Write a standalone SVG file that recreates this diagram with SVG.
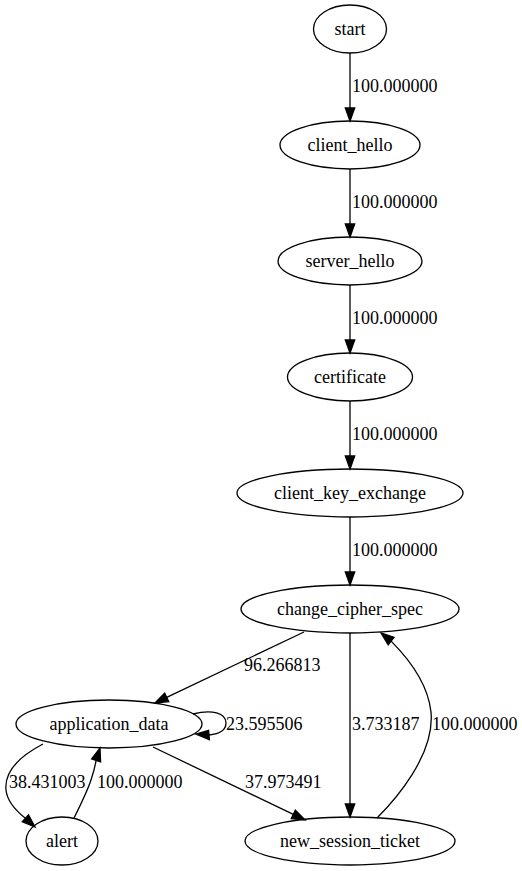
<svg xmlns="http://www.w3.org/2000/svg" width="522" height="871" viewBox="0 0 522 871">
<style>
.n ellipse{fill:none;stroke:#000;stroke-width:1.3}
.n text{font-family:"Liberation Serif","Times New Roman",serif;font-size:18px;text-anchor:middle;fill:#000}
.e path,.e line{fill:none;stroke:#000;stroke-width:1.3}
.e polygon{fill:#000;stroke:#000;stroke-width:1.3}
.e text{font-family:"Liberation Serif","Times New Roman",serif;font-size:18px;fill:#000}
</style>
<rect width="522" height="871" fill="#fff"/>
<g id="edges" class="e">
<line x1="350" y1="53" x2="350" y2="108"/><polygon points="345.3,108 354.7,108 350,121"/><text x="352" y="92">100.000000</text>
<line x1="350" y1="169" x2="350" y2="224"/><polygon points="345.3,224 354.7,224 350,237"/><text x="352" y="208">100.000000</text>
<line x1="350" y1="285" x2="350" y2="340"/><polygon points="345.3,340 354.7,340 350,353"/><text x="352" y="324">100.000000</text>
<line x1="350" y1="401" x2="350" y2="456"/><polygon points="345.3,456 354.7,456 350,469"/><text x="352" y="440">100.000000</text>
<line x1="350" y1="517" x2="350" y2="572"/><polygon points="345.3,572 354.7,572 350,585"/><text x="352" y="556">100.000000</text>
<line x1="304" y1="632" x2="166.7" y2="697.4"/><polygon points="168.7,701.6 164.7,693.2 155,703"/><text x="244" y="671">96.266813</text>
<path d="M193,714 C212,709 226,713 226,723 C226,730 219,734 209,735"/><polygon points="208.6,730.3 209.4,739.7 196,734"/><text x="226" y="730">23.595506</text>
<line x1="350" y1="633" x2="350" y2="804"/><polygon points="345.3,804 354.7,804 350,817"/><text x="352" y="730">3.733187</text>
<path d="M377,818 C395,800 435,755 431,712 C428,685 410,660 391.1,641.1"/><polygon points="394,637.4 388.2,644.8 381,633"/><text x="432" y="730">100.000000</text>
<path d="M43,744 C22,755 4,770 6,790 C7,800 15,810 25.4,818.3"/><polygon points="22.3,821.8 28.5,814.8 35,827"/><text x="9" y="788">38.431003</text>
<path d="M74,818 C80,806 87,792 91,780 C93,774 95,767 96.1,760.4"/><polygon points="100.6,761.8 91.6,759 100,748"/><text x="97" y="788">100.000000</text>
<line x1="153" y1="747" x2="293.3" y2="814.4"/><polygon points="291.3,818.6 295.3,810.2 305,820"/><text x="245" y="788">37.973491</text>
</g>
<g id="start" class="n"><ellipse cx="350" cy="29" rx="36.5" ry="24"/><text x="350" y="35">start</text></g>
<g id="client_hello" class="n"><ellipse cx="350" cy="145" rx="70" ry="24"/><text x="350" y="151">client_hello</text></g>
<g id="server_hello" class="n"><ellipse cx="350" cy="261" rx="72" ry="24"/><text x="350" y="267">server_hello</text></g>
<g id="certificate" class="n"><ellipse cx="350" cy="377" rx="62.5" ry="24"/><text x="350" y="383">certificate</text></g>
<g id="client_key_exchange" class="n"><ellipse cx="350" cy="493" rx="113" ry="24"/><text x="350" y="499">client_key_exchange</text></g>
<g id="change_cipher_spec" class="n"><ellipse cx="350" cy="609" rx="109" ry="24"/><text x="350" y="615">change_cipher_spec</text></g>
<g id="application_data" class="n"><ellipse cx="109" cy="724" rx="93" ry="24"/><text x="109" y="730">application_data</text></g>
<g id="alert" class="n"><ellipse cx="62" cy="841" rx="36" ry="24"/><text x="62" y="847">alert</text></g>
<g id="new_session_ticket" class="n"><ellipse cx="350" cy="841" rx="105" ry="24"/><text x="350" y="847">new_session_ticket</text></g>
</svg>
